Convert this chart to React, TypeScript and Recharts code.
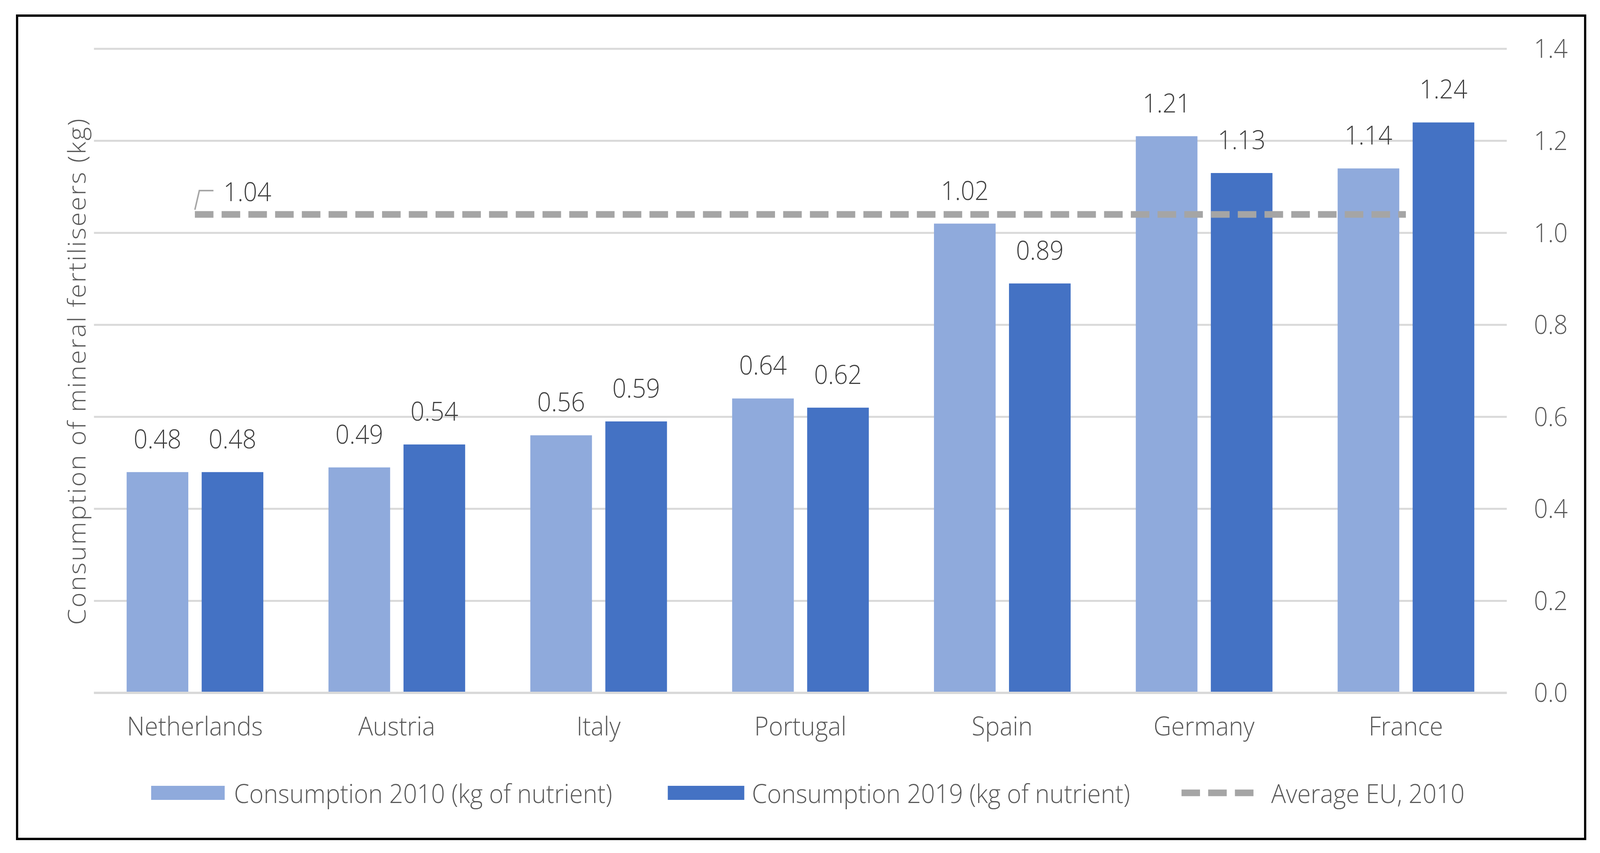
import React from 'react';
import { ComposedChart, Bar, Line, XAxis, YAxis, CartesianGrid, LabelList, Legend } from 'recharts';

const countries = ['Netherlands', 'Austria', 'Italy', 'Portugal', 'Spain', 'Germany', 'France'];
const consumption2010 = [0.48, 0.49, 0.56, 0.64, 1.02, 1.21, 1.14];
const consumption2019 = [0.48, 0.54, 0.59, 0.62, 0.89, 1.13, 1.24];
const averageEU2010 = [1.04, 1.04, 1.04, 1.04, 1.04, 1.04, 1.04];
const yTicks = [0, 0.2, 0.4, 0.6, 0.8, 1.0, 1.2, 1.4];

const data = countries.map((country, i) => ({
  country,
  c2010: consumption2010[i],
  c2019: consumption2019[i],
  avg: averageEU2010[i],
}));

const W = 4308;
const H = 2184;
const FS = 66;
const FONT = '"Open Sans", sans-serif';
const TEXT = '#595959';
const LABEL = '#404040';
const LIGHT = '#8FAADC';
const DARK = '#4472C4';
const GREY = '#A5A5A5';

// only the first point of the average line carries a label, with a small leader line
function AvgLabel(props: any) {
  const { x, y, index, value } = props;
  if (index !== 0) return null;
  return (
    <g>
      <polyline
        points={`${x},${y - 12} ${x + 12},${y - 61} ${x + 50},${y - 61}`}
        fill="none"
        stroke="#A6A6A6"
        strokeWidth={4}
      />
      <text x={x + 77} y={y - 34} fill={LABEL} fontSize={FS} fontFamily={FONT} fontWeight={300}>
        {value}
      </text>
    </g>
  );
}

function LegendContent() {
  const item = { flexShrink: 0, whiteSpace: 'nowrap' as const };
  return (
    <div style={{ display: 'flex', alignItems: 'center', height: 90, paddingLeft: 407, fontFamily: FONT, fontWeight: 300, fontSize: FS, color: TEXT, lineHeight: 1 }}>
      <div style={{ ...item, width: 198, height: 36, background: LIGHT }} />
      <div style={{ ...item, marginLeft: 25 }}>Consumption 2010 (kg of nutrient)</div>
      <div style={{ ...item, width: 206, height: 36, background: DARK, marginLeft: 150 }} />
      <div style={{ ...item, marginLeft: 20 }}>Consumption 2019 (kg of nutrient)</div>
      <svg width={206} height={18} style={{ ...item, marginLeft: 138 }}>
        <line x1={0} y1={9} x2={206} y2={9} stroke={GREY} strokeWidth={17} strokeDasharray="50 22" />
      </svg>
      <div style={{ ...item, marginLeft: 36 }}>Average EU, 2010</div>
    </div>
  );
}

export default function App() {
  // fit the drawing to the real viewport, in case it differs from W x H
  const vw = typeof window !== 'undefined' ? window.innerWidth : W;
  const vh = typeof window !== 'undefined' ? window.innerHeight : H;
  const sx = vw > 100 ? vw / W : 1;
  const sy = vh > 100 ? vh / H : sx;
  const tick = { fill: TEXT, fontSize: FS, fontFamily: FONT, fontWeight: 300 };

  return (
    <div style={{ position: 'absolute', left: 0, top: 0, width: W * sx, height: H * sy, overflow: 'hidden', background: '#fff' }}>
      <div style={{ position: 'absolute', left: 0, top: 0, width: W, height: H, transform: `scale(${sx}, ${sy})`, transformOrigin: '0 0' }}>
        <div
          style={{
            position: 'absolute', left: 43, top: 37, width: 4228, height: 2114,
            border: '6px solid #000', boxSizing: 'border-box',
          }}
        />
        <div style={{ position: 'absolute', left: 0, top: 0 }}>
          <ComposedChart
            width={W}
            height={H}
            data={data}
            margin={{ top: 125, right: 51, bottom: 290, left: 253 }}
            barSize={166}
            barGap={36}
          >
            <CartesianGrid vertical={false} stroke="#D9D9D9" strokeWidth={5} />
            <XAxis
              dataKey="country"
              height={120}
              axisLine={{ stroke: '#D9D9D9', strokeWidth: 6 }}
              tickLine={false}
              tickSize={0}
              tickMargin={62}
              tick={tick}
            />
            <YAxis
              orientation="right"
              width={200}
              domain={[0, 1.4]}
              ticks={yTicks}
              axisLine={false}
              tickLine={false}
              tickSize={0}
              tickMargin={73}
              tickFormatter={(v: number) => v.toFixed(1)}
              tick={tick}
            />
            <Bar dataKey="c2010" name="Consumption 2010 (kg of nutrient)" fill={LIGHT} isAnimationActive={false}>
              <LabelList dataKey="c2010" position="top" offset={61} fill={LABEL} fontSize={FS} fontFamily={FONT} fontWeight={300} />
            </Bar>
            <Bar dataKey="c2019" name="Consumption 2019 (kg of nutrient)" fill={DARK} isAnimationActive={false}>
              <LabelList dataKey="c2019" position="top" offset={61} fill={LABEL} fontSize={FS} fontFamily={FONT} fontWeight={300} />
            </Bar>
            <Line
              dataKey="avg"
              name="Average EU, 2010"
              stroke={GREY}
              strokeWidth={17}
              strokeDasharray="50 22"
              dot={false}
              activeDot={false}
              isAnimationActive={false}
            >
              <LabelList dataKey="avg" content={AvgLabel} />
            </Line>
            <Legend
              layout="horizontal"
              verticalAlign="middle"
              align="center"
              content={LegendContent}
              wrapperStyle={{ top: 1985, left: 0, width: W, height: 90 }}
            />
            <text
              x={205}
              y={952}
              transform="rotate(-90 205 952)"
              textAnchor="middle"
              dominantBaseline="central"
              fill={TEXT}
              fontSize={FS}
              fontFamily={FONT}
              fontWeight={300}
              textLength={1296}
              lengthAdjust="spacing"
            >
              Consumption of mineral fertiliseers (kg)
            </text>
          </ComposedChart>
        </div>
      </div>
    </div>
  );
}
